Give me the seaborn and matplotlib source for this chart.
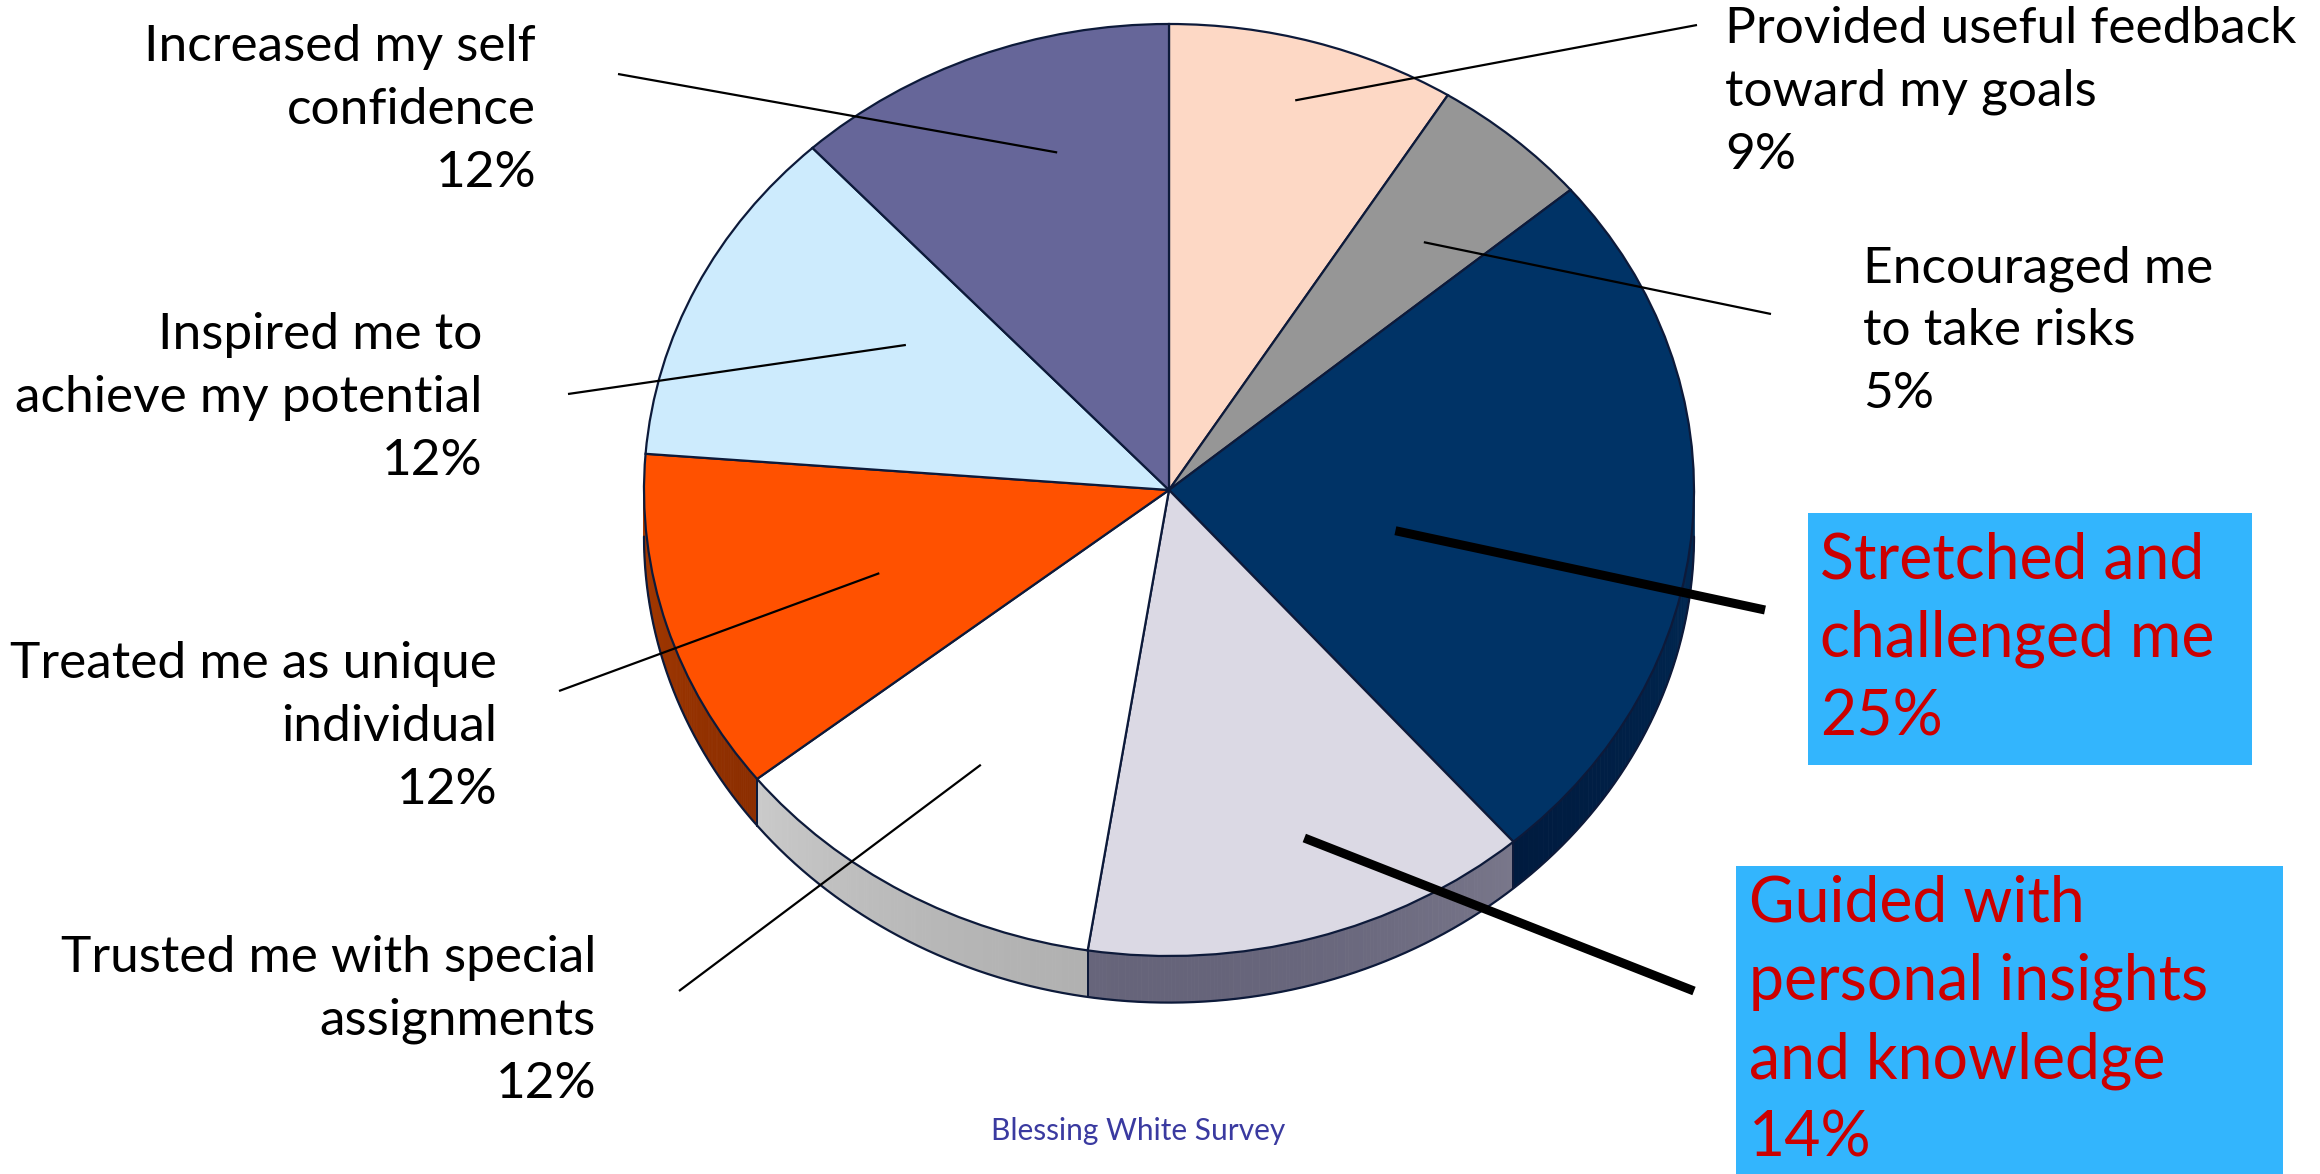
import numpy as np
import matplotlib
matplotlib.use('Agg')
import matplotlib.pyplot as plt
import seaborn as sns
from matplotlib.patches import Polygon, Rectangle
from matplotlib.colors import to_rgb

# slices, clockwise from 12 o'clock
labels = ['Provided useful feedback\ntoward my goals',
          'Encouraged me\nto take risks',
          'Stretched and\nchallenged me',
          'Guided with\npersonal insights\nand knowledge',
          'Trusted me with special\nassignments',
          'Treated me as unique\nindividual',
          'Inspired me to\nachieve my potential',
          'Increased my self\nconfidence']
shares = [9, 5, 25, 14, 12, 12, 12, 12]
highlight = [False, False, True, True, False, False, False, False]

slice_colors = sns.color_palette(['#fdd8c5', '#969696', '#003366', '#dbd9e4',
                                  '#ffffff', '#ff5100', '#cdebfd', '#666699'])
side_top = ['#c8a898', '#6e6e6e', '#002a55', '#b4b2bd', '#f6f6f6', '#a83a00', '#9fc0d8', '#4a4a72']
side_bot = ['#a08070', '#505050', '#001638', '#66647a', '#b0b0b0', '#7a2600', '#7090a8', '#33334f']

# layout, figure pixels (2320 x 1174)
W, H = 2320, 1174
CX, CY, RX, RY = 1169, 490, 525, 466
DEPTH = 0.10
label_pos = [(1725, 92, 'left'), (1863, 331, 'left'), (1820, 639, 'left'), (1749, 1021, 'left'),
             (596, 1021, 'right'), (497, 727, 'right'), (482, 398, 'right'), (536, 110, 'right')]
leader_end = [(1697, 25), (1771, 314), (1765, 610), (1694, 991),
              (679, 991), (559, 691), (568, 394), (618, 74)]
leader_r = [0.87, 0.72, 0.44, 0.79, 0.69, 0.58, 0.59, 0.755]
leader_da = [0, -1.4, -7, 3, -1, 1, -6, -5]   # degrees off the slice middle
boxes = {2: (1808, 513, 2252, 765), 3: (1736, 866, 2283, 1180)}


def px(x, y):
    return (x - CX) / RX, (CY - y) / RY


sns.set_theme(style='white')
plt.rcParams['font.family'] = ['Lato', 'DejaVu Sans']

fig = plt.figure(figsize=(W / 100, H / 100), dpi=100)
ax = fig.add_axes([0, 0, 1, 1])

wedges, _ = ax.pie(shares, colors=slice_colors, startangle=90, counterclock=False,
                   wedgeprops=dict(edgecolor='#0d1a3a', linewidth=1.6, zorder=5))

# side wall of the tilted disc (front half only)
for i, w in enumerate(wedges):
    t = np.radians(np.linspace(w.theta1, w.theta2, 120))
    for a, b in zip(t[:-1], t[1:]):
        m = 0.5 * (a + b)
        if np.sin(m) >= 0:
            continue
        f = -np.sin(m)
        c = np.array(to_rgb(side_top[i])) * (1 - f) + np.array(to_rgb(side_bot[i])) * f
        pts = [(np.cos(a), np.sin(a)), (np.cos(b), np.sin(b)),
               (np.cos(b), np.sin(b) - DEPTH), (np.cos(a), np.sin(a) - DEPTH)]
        ax.add_patch(Polygon(pts, closed=True, facecolor=c, edgecolor=c, linewidth=0.6, zorder=2))
    for th in (w.theta1, w.theta2):
        r = np.radians(th)
        if np.sin(r) < -0.02:
            ax.plot([np.cos(r)] * 2, [np.sin(r), np.sin(r) - DEPTH], color='#0d1a3a', lw=1.4, zorder=3)

tt = np.radians(np.linspace(180, 360, 300))
ax.plot(np.cos(tt), np.sin(tt) - DEPTH, color='#0d1a3a', lw=1.6, zorder=3)

# label boxes
for i, (x0, y0, x1, y1) in boxes.items():
    (dx0, dy0), (dx1, dy1) = px(x0, y1), px(x1, y0)
    ax.add_patch(Rectangle((dx0, dy0), dx1 - dx0, dy1 - dy0, facecolor='#33b5fd',
                           edgecolor='none', zorder=1))

# labels and leader lines
for i, w in enumerate(wedges):
    mid = np.radians(0.5 * (w.theta1 + w.theta2) + leader_da[i])
    inner = (leader_r[i] * np.cos(mid), leader_r[i] * np.sin(mid))
    outer = px(*leader_end[i])
    ax.plot([inner[0], outer[0]], [inner[1], outer[1]],
            color='black', lw=6.5 if highlight[i] else 1.6, zorder=8, solid_capstyle='butt')
    x, y, ha = label_pos[i]
    txt = f'{labels[i]}\n{shares[i]}%'
    if highlight[i]:
        ax.text(*px(x, y), txt, ha='left', va='center', fontsize=45, color='#cc0000',
                linespacing=1.43, zorder=9)
    else:
        ax.text(*px(x, y), txt, ha=ha, va='center', fontsize=37, color='black',
                multialignment=ha, linespacing=1.45, zorder=9)

ax.text(*px(1138, 1131), 'Blessing White Survey', ha='center', va='center',
        fontsize=21.5, color='#3a3aa0', zorder=9)

ax.set_aspect('auto')
ax.set_xlim(px(0, 0)[0], px(W, 0)[0])
ax.set_ylim(px(0, H)[1], px(0, 0)[1])
ax.axis('off')

fig.savefig('out.png', dpi=100, facecolor='white')
